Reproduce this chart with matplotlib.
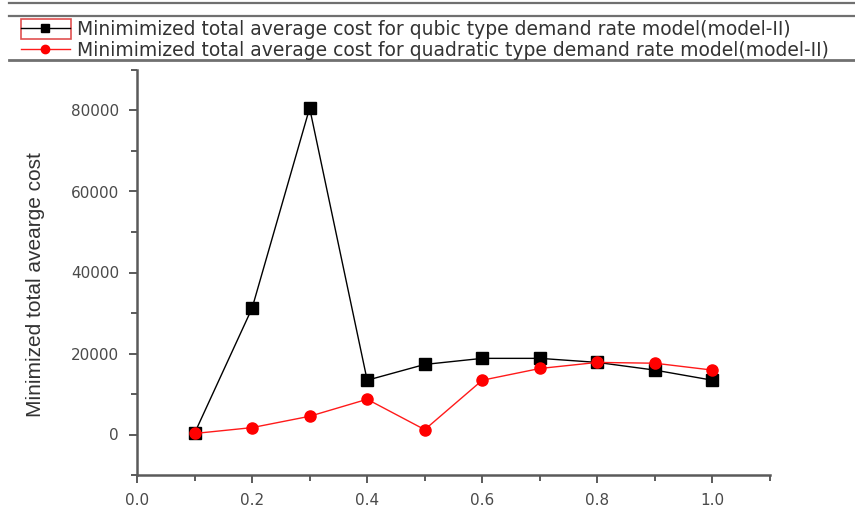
import matplotlib
matplotlib.use("Agg")
import matplotlib.pyplot as plt
from matplotlib.lines import Line2D
from matplotlib.patches import Rectangle
from matplotlib.ticker import MultipleLocator, FormatStrFormatter

# Demand-rate parameter
x_vals = [0.1, 0.2, 0.3, 0.4, 0.5, 0.6, 0.7, 0.8, 0.9, 1.0]
# Minimized total average cost, cubic demand model (model-II)
cubic_cost = [300, 31200, 80600, 13400, 17300, 18800, 18800, 17800, 15900, 13400]
# Minimized total average cost, quadratic demand model (model-II)
quad_cost = [250, 1700, 4500, 8700, 1200, 13400, 16300, 17800, 17600, 15900]

labels = [
    "Minimimized total average cost for qubic type demand rate model(model-II)",
    "Minimimized total average cost for quadratic type demand rate model(model-II)",
]
y_label = "Minimized total avearge cost"

W, H = 855, 512
fig = plt.figure(figsize=(W / 100, H / 100), dpi=100)
ax = fig.add_axes([137 / W, 1 - 475 / H, (770 - 137) / W, (475 - 70) / H])

axis_grey = "#5a5a5a"
text_grey = "#4a4a4a"

l1, = ax.plot(x_vals, cubic_cost, color="black", lw=1.0, marker="s",
              markersize=8, markerfacecolor="black", markeredgecolor="black",
              zorder=3)
l2, = ax.plot(x_vals, quad_cost, color="#ff1a1a", lw=1.0, marker="o",
              markersize=8, markerfacecolor="#ff0000", markeredgecolor="#ff0000",
              zorder=4)

ax.set_xlim(0, 1.1)
ax.set_ylim(-10000, 90000)
ax.xaxis.set_major_locator(MultipleLocator(0.2))
ax.xaxis.set_minor_locator(MultipleLocator(0.1))
ax.yaxis.set_major_locator(MultipleLocator(20000))
ax.yaxis.set_minor_locator(MultipleLocator(10000))
ax.xaxis.set_major_formatter(FormatStrFormatter("%.1f"))

for side in ("top", "right"):
    ax.spines[side].set_visible(False)
for side in ("left", "bottom"):
    ax.spines[side].set_color(axis_grey)
    ax.spines[side].set_linewidth(1.8)

ax.tick_params(which="major", direction="out", length=6, width=1.4,
               color=axis_grey, labelcolor=text_grey, labelsize=11, pad=7)
ax.tick_params(which="minor", direction="out", length=4, width=1.4,
               color=axis_grey)
for t in ax.get_xticklabels() + ax.get_yticklabels():
    t.set_family("DejaVu Sans")

ax.set_ylabel(y_label, family="Liberation Sans", fontsize=15,
              color="#333333")
ax.yaxis.set_label_coords(-0.145, 0.47)

# Legend strip across the top
leg = fig.legend([l1, l2], labels, loc="upper left",
                 bbox_to_anchor=(21 / W, 1 - 20 / H), frameon=False,
                 borderpad=0, borderaxespad=0, handlelength=2.6,
                 handletextpad=0.4, labelspacing=0.08,
                 prop={"family": "DejaVu Sans", "size": 13.5})
for txt in leg.get_texts():
    txt.set_color("#333333")
for h in leg.legend_handles:
    h.set_markersize(6)

for yy, lw in ((3, 1.6), (16, 1.6), (60, 2.0)):
    fig.add_artist(Line2D([9 / W, 1], [1 - yy / H, 1 - yy / H],
                          transform=fig.transFigure, color="#707070", lw=lw))
fig.add_artist(Rectangle((21 / W, 1 - 39 / H), 50 / W, 20 / H,
                         transform=fig.transFigure, fill=False,
                         edgecolor="#e05050", lw=1.2))

fig.savefig("out.png", dpi=100)
